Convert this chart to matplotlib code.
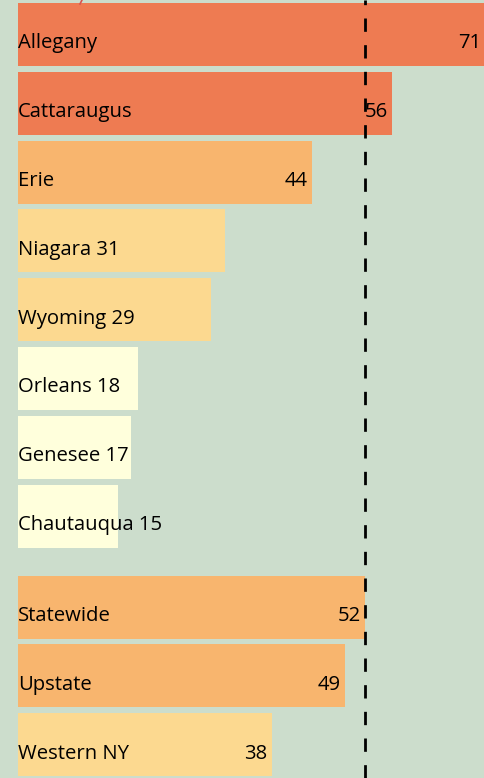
import matplotlib
matplotlib.use('Agg')
import matplotlib.pyplot as plt
from matplotlib.lines import Line2D

# rates by county, then the regional comparisons
counties = ['Allegany', 'Cattaraugus', 'Erie', 'Niagara', 'Wyoming',
            'Orleans', 'Genesee', 'Chautauqua']
county_vals = [71, 56, 44, 31, 29, 18, 17, 15]
regions = ['Statewide', 'Upstate', 'Western NY']
region_vals = [52, 49, 38]

labels = counties + regions
values = county_vals + region_vals
statewide = region_vals[0]

# row positions, with a small gap before the regional group
rows = list(range(len(counties))) + [len(counties) + 0.32 + i for i in range(len(regions))]

bg = '#CCDDCC'


def bar_color(v):
    if v >= 55:
        return '#EE7B52'
    if v >= 40:
        return '#F8B56E'
    if v >= 20:
        return '#FCD990'
    return '#FFFFDC'


plt.rcParams['font.family'] = ['Open Sans', 'DejaVu Sans']

fig = plt.figure(figsize=(4.85, 7.78), dpi=100)
fig.patch.set_facecolor(bg)
ax = fig.add_axes([18 / 485, 0, 467 / 485, 1])
ax.set_facecolor(bg)

ax.barh(rows, values, height=0.915, color=[bar_color(v) for v in values], zorder=1)

ax.axvline(statewide, color='black', lw=2, linestyle=(0, (4.8, 4.8)), zorder=2)

xmax = 70.0
fs = 14.6
for r, name, v in zip(rows, labels, values):
    yb = r + 0.2
    if v >= 35:
        ax.text(0, yb, name, ha='left', va='baseline', fontsize=fs, zorder=3)
        ax.text(min(v, xmax) - 0.6, yb, str(v), ha='right', va='baseline',
                fontsize=fs, zorder=3)
    else:
        ax.text(0, yb, f'{name} {v}', ha='left', va='baseline', fontsize=fs, zorder=3)

ax.set_xlim(0, xmax)
ax.set_ylim(rows[-1] + 0.483, -0.5)
ax.axis('off')

# leader stroke from the caption above
fig.add_artist(Line2D([80 / 485, 82 / 485], [1 - 4 / 778, 1.0], color='#D9534F', lw=1.2))

fig.savefig('out.png', dpi=100, facecolor=bg)
